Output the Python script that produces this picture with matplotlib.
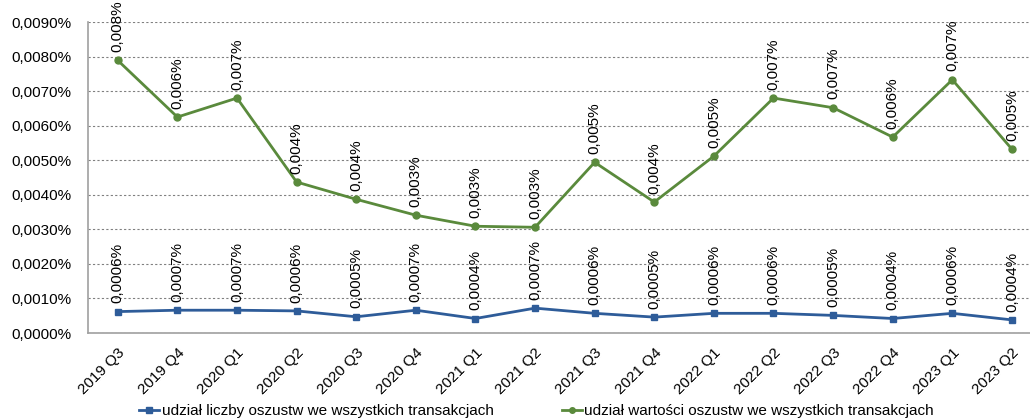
import matplotlib.pyplot as plt
from matplotlib.ticker import FuncFormatter

plt.rcParams["font.family"] = ["Liberation Sans", "DejaVu Sans"]

# quarters and shares (in percent)
quarters = ["2019 Q3", "2019 Q4", "2020 Q1", "2020 Q2", "2020 Q3", "2020 Q4",
            "2021 Q1", "2021 Q2", "2021 Q3", "2021 Q4", "2022 Q1", "2022 Q2",
            "2022 Q3", "2022 Q4", "2023 Q1", "2023 Q2"]
share_count = [0.00062, 0.00066, 0.00066, 0.00064, 0.00047, 0.00066,
               0.00042, 0.00072, 0.00057, 0.00046, 0.00057, 0.00057,
               0.00051, 0.00042, 0.00057, 0.00038]
share_value = [0.00789, 0.00625, 0.00680, 0.00437, 0.00387, 0.00341,
               0.00309, 0.00306, 0.00494, 0.00379, 0.00512, 0.00680,
               0.00652, 0.00567, 0.00733, 0.00532]
count_labels = ["0,0006%", "0,0007%", "0,0007%", "0,0006%", "0,0005%", "0,0007%",
                "0,0004%", "0,0007%", "0,0006%", "0,0005%", "0,0006%", "0,0006%",
                "0,0005%", "0,0004%", "0,0006%", "0,0004%"]
value_labels = ["0,008%", "0,006%", "0,007%", "0,004%", "0,004%", "0,003%",
                "0,003%", "0,003%", "0,005%", "0,004%", "0,005%", "0,007%",
                "0,007%", "0,006%", "0,007%", "0,005%"]

blue = "#2E5C99"
green = "#5A8A3C"

fig = plt.figure(figsize=(10.3, 4.18), dpi=100)
ax = fig.add_axes([0.0854, 0.2033, 0.926, 0.744])

x = range(len(quarters))
l1, = ax.plot(x, share_count, color=blue, lw=2, marker="s", ms=5,
              label="udział liczby oszustw we wszystkich transakcjach")
l2, = ax.plot(x, share_value, color=green, lw=2, marker="o", ms=5,
              label="udział wartości oszustw we wszystkich transakcjach")

for i in x:
    ax.annotate(count_labels[i], (i, share_count[i]), xytext=(0, 6),
                textcoords="offset points", rotation=90, ha="center",
                va="bottom", fontsize=11)
    ax.annotate(value_labels[i], (i, share_value[i]), xytext=(0, 6),
                textcoords="offset points", rotation=90, ha="center",
                va="bottom", fontsize=11)

ax.set_xlim(-0.5, len(quarters) - 0.5)
ax.set_ylim(0, 0.009)
ax.set_yticks([i * 0.001 for i in range(10)])
ax.yaxis.set_major_formatter(FuncFormatter(lambda v, p: f"{v:.4f}%".replace(".", ",")))
ax.set_xticks(list(x))
ax.set_xticklabels(quarters, rotation=45, ha="right", rotation_mode="anchor")
ax.tick_params(axis="both", length=0, labelsize=11)
ax.tick_params(axis="x", pad=9)
ax.tick_params(axis="y", pad=12)

ax.grid(axis="y", color="#808080", linestyle=(0, (2, 2)), lw=0.8)
ax.set_axisbelow(True)
for s in ["top", "right"]:
    ax.spines[s].set_visible(False)
for s in ["left", "bottom"]:
    ax.spines[s].set_color("#a0a0a0")
    ax.spines[s].set_linewidth(1.2)

fig.legend(handles=[l1, l2], loc="center", bbox_to_anchor=(0.521, 0.017),
           ncol=2, frameon=False, fontsize=11, handlelength=1.3,
           handletextpad=0.15, columnspacing=4.5, markerscale=0.8)

fig.savefig("out.png", dpi=100)
